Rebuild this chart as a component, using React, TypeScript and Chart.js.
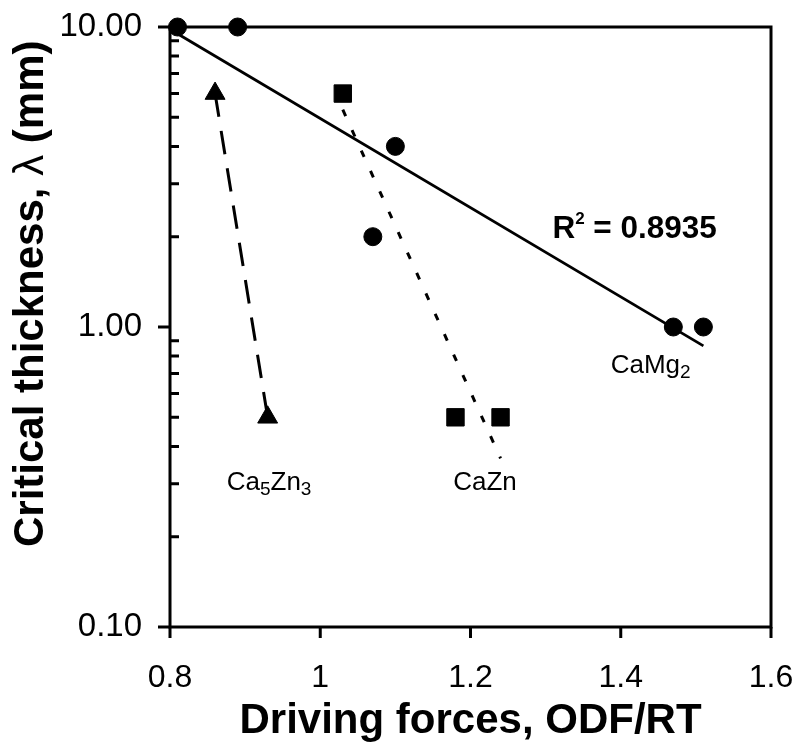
import React, { useEffect, useRef } from "react";
import { Chart, registerables } from "chart.js";

Chart.register(...registerables);

// ---- data ----
const camg2X = [0.81, 0.89, 1.07, 1.1, 1.47, 1.51];
const camg2Y = [10, 10, 2, 4, 1, 1];
const caznX = [1.03, 1.18, 1.24];
const caznY = [6, 0.5, 0.5];
const ca5zn3X = [0.86, 0.93];
const ca5zn3Y = [6, 0.5];

// trendlines (end points)
const camg2TrendX = [0.81, 1.51];
const camg2TrendY = [9.49, 0.865];
const caznTrendX = [1.03, 1.24];
const caznTrendY = [5.3, 0.365];
const ca5zn3TrendX = [0.86, 0.93];
const ca5zn3TrendY = [6, 0.5];

const xTicks = [0.8, 1.0, 1.2, 1.4, 1.6];
const xTickLabels = ["0.8", "1", "1.2", "1.4", "1.6"];
const yTicks = [0.1, 1, 10];
const yTickLabels = ["0.10", "1.00", "10.00"];
const yMinorTicks = [0.2, 0.3, 0.4, 0.5, 0.6, 0.7, 0.8, 0.9, 2, 3, 4, 5, 6, 7, 8, 9];

const rSquared = "0.8935";
const xTitle = "Driving forces, ODF/RT";

const FONT = '"Liberation Sans", Arial, sans-serif';

type Piece = { t: string; kind?: "sub" | "sup"; weight?: string };

const toPts = (xs: number[], ys: number[]) => xs.map((x, i) => ({ x, y: ys[i] }));

function drawRich(
  ctx: CanvasRenderingContext2D,
  x: number,
  y: number,
  pieces: Piece[],
  size: number,
  small: number,
  shiftSub: number,
  shiftSup: number,
  weight: string
) {
  let cx = x;
  for (const p of pieces) {
    const fs = p.kind ? small : size;
    const w = p.weight ?? weight;
    ctx.font = `${w} ${fs}px ${FONT}`;
    const dy = p.kind === "sub" ? shiftSub : p.kind === "sup" ? -shiftSup : 0;
    ctx.fillText(p.t, cx, y + dy);
    cx += ctx.measureText(p.t).width;
  }
}

const annotations: { x: number; y: number; pieces: Piece[]; bold: boolean }[] = [
  { x: 1.309, y: 1.976, pieces: [{ t: "R" }, { t: "2", kind: "sup" }, { t: " = " + rSquared }], bold: true },
  { x: 1.3866, y: 0.701, pieces: [{ t: "CaMg" }, { t: "2", kind: "sub" }], bold: false },
  { x: 0.8755, y: 0.286, pieces: [{ t: "Ca" }, { t: "5", kind: "sub" }, { t: "Zn" }, { t: "3", kind: "sub" }], bold: false },
  { x: 1.177, y: 0.286, pieces: [{ t: "CaZn" }], bold: false },
];

const framePlugin = {
  id: "frame",
  beforeDatasetsDraw(chart: any) {
    const { ctx, chartArea: a, scales } = chart;
    const xs = scales.x;
    const ys = scales.y;
    ctx.save();
    ctx.strokeStyle = "#000";
    ctx.lineWidth = 3;
    ctx.lineCap = "butt";
    ctx.strokeRect(a.left, a.top, a.right - a.left, a.bottom - a.top);
    ctx.beginPath();
    for (const v of yTicks) {
      const py = ys.getPixelForValue(v);
      ctx.moveTo(a.left - 12, py);
      ctx.lineTo(a.left + 1, py);
    }
    for (const v of yMinorTicks) {
      const py = ys.getPixelForValue(v);
      ctx.moveTo(a.left, py);
      ctx.lineTo(a.left + 9, py);
    }
    for (const v of xTicks) {
      const px = xs.getPixelForValue(v);
      ctx.moveTo(px, a.bottom);
      ctx.lineTo(px, a.bottom + 11);
    }
    ctx.stroke();
    ctx.restore();
  },
  afterDraw(chart: any) {
    const { ctx, chartArea: a, scales } = chart;
    const xs = scales.x;
    const ys = scales.y;
    ctx.save();
    ctx.fillStyle = "#000";
    ctx.textAlign = "left";
    ctx.textBaseline = "alphabetic";
    for (const an of annotations) {
      const px = xs.getPixelForValue(an.x);
      const py = ys.getPixelForValue(an.y);
      if (an.bold) {
        drawRich(ctx, px, py, an.pieces, 31.5, 17, 5, 14, "bold");
      } else {
        drawRich(ctx, px, py, an.pieces, 26, 19, 5, 10, "normal");
      }
    }
    // y axis title (rotated)
    ctx.translate(a.left - 127, 547);
    ctx.rotate(-Math.PI / 2);
    drawRich(
      ctx,
      0,
      0,
      [{ t: "Critical thickness, " }, { t: "\u03bb", weight: "normal" }, { t: " (mm)" }],
      42,
      42,
      0,
      0,
      "bold"
    );
    ctx.restore();
  },
};

const zeroPad = (s: any) => {
  s.paddingTop = 0;
  s.paddingBottom = 0;
  s.paddingLeft = 0;
  s.paddingRight = 0;
};

export default function App() {
  const ref = useRef<HTMLCanvasElement | null>(null);

  useEffect(() => {
    if (!ref.current) return;
    const pointBase = {
      backgroundColor: "#000",
      borderColor: "#000",
      pointBackgroundColor: "#000",
      pointBorderColor: "#000",
      pointBorderWidth: 1,
      showLine: false,
      clip: false as const,
    };
    const lineBase = {
      borderColor: "#000",
      backgroundColor: "#000",
      showLine: true,
      pointRadius: 0,
      pointHoverRadius: 0,
      pointHitRadius: 0,
      fill: false,
      tension: 0,
      clip: false as const,
    };
    const chart = new Chart(ref.current, {
      type: "scatter",
      data: {
        datasets: [
          { ...pointBase, label: "CaMg2", data: toPts(camg2X, camg2Y), pointStyle: "circle", pointRadius: 9 },
          { ...pointBase, label: "CaZn", data: toPts(caznX, caznY), pointStyle: "rect", pointRadius: 12.3 },
          { ...pointBase, label: "Ca5Zn3", data: toPts(ca5zn3X, ca5zn3Y), pointStyle: "triangle", pointRadius: 11.5 },
          { ...lineBase, label: "CaMg2 trend", data: toPts(camg2TrendX, camg2TrendY), borderWidth: 2.8 },
          { ...lineBase, label: "CaZn trend", data: toPts(caznTrendX, caznTrendY), borderWidth: 3, borderDash: [7, 15.4] },
          { ...lineBase, label: "Ca5Zn3 trend", data: toPts(ca5zn3TrendX, ca5zn3TrendY), borderWidth: 3, borderDash: [23.6, 14.2] },
        ] as any,
      },
      options: {
        responsive: false,
        animation: false,
        events: [],
        layout: { padding: { top: 27, right: 27, left: 0, bottom: 0 } },
        plugins: {
          legend: { display: false },
          tooltip: { enabled: false },
        },
        scales: {
          x: {
            type: "linear",
            position: "bottom",
            min: 0.8,
            max: 1.6,
            grid: { display: false, drawTicks: false },
            border: { display: false },
            ticks: {
              color: "#000",
              font: { family: FONT, size: 32 },
              padding: 32,
              autoSkip: false,
              maxRotation: 0,
              minRotation: 0,
              callback: (_v: any, i: number) => xTickLabels[i],
            },
            title: {
              display: true,
              text: xTitle,
              color: "#000",
              font: { family: FONT, size: 42, weight: "bold" },
              padding: { top: 0, bottom: 0 },
            },
            afterBuildTicks: (s: any) => {
              s.ticks = xTicks.map((v) => ({ value: v }));
            },
            afterFit: (s: any) => {
              s.height = 120;
              zeroPad(s);
            },
          },
          y: {
            type: "logarithmic",
            position: "left",
            min: 0.1,
            max: 10,
            grid: { display: false, drawTicks: false },
            border: { display: false },
            ticks: {
              color: "#000",
              font: { family: FONT, size: 33 },
              padding: 28,
              autoSkip: false,
              callback: (_v: any, i: number) => yTickLabels[i],
            },
            afterBuildTicks: (s: any) => {
              s.ticks = yTicks.map((v) => ({ value: v }));
            },
            afterFit: (s: any) => {
              s.width = 170;
              zeroPad(s);
            },
          },
        },
      } as any,
      plugins: [framePlugin],
    });
    return () => chart.destroy();
  }, []);

  return (
    <div style={{ position: "absolute", left: 0, top: 0, width: 798, height: 747, background: "#fff" }}>
      <canvas ref={ref} width={798} height={747} style={{ display: "block" }} />
    </div>
  );
}
